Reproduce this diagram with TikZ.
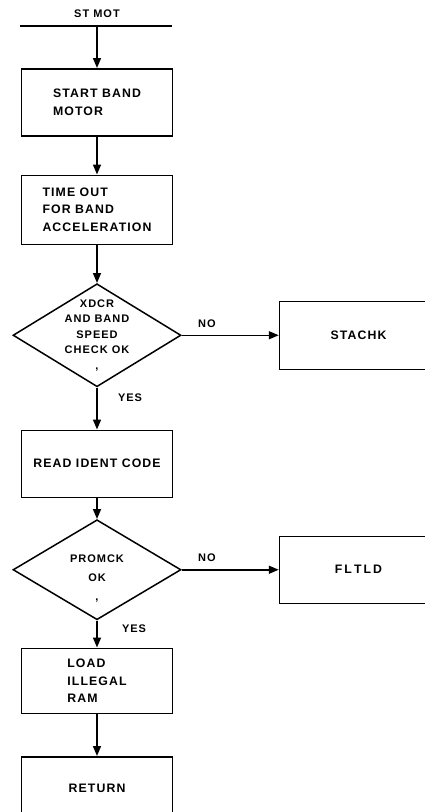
\documentclass[tikz,border=0pt]{standalone}
\usepackage{fontspec}
\setmainfont{Liberation Sans}[LetterSpace=9]
\usetikzlibrary{arrows.meta,positioning,shapes.geometric}
\tikzset{box/.style={draw,line width=1.5pt,align=left,minimum height=67pt,minimum width=151pt,inner sep=2pt,font=\fontsize{12.3}{17.5}\selectfont\bfseries},decision/.style={draw,diamond,line width=1.5pt,minimum width=168pt,minimum height=103pt,inner sep=0pt},arrow/.style={-{Triangle[length=10pt,width=8pt]},line width=1.5pt},txt/.style={font=\fontsize{11}{17}\selectfont\bfseries}}

\begin{document}
\begin{tikzpicture}[x=1pt,y=1pt,node distance=38pt,txt]
\useasboundingbox (0,0) rectangle (424,-812);
\node (stmot) at (97,-14) {ST MOT};
\coordinate (entry) at (97,-26);
\draw[line width=1.5pt] (20,-26) -- (172,-26);
\node[box,below=42pt of entry] (start) {START BAND\\MOTOR};
\node[box,below=of start,minimum height=69pt] (timeout) {TIME OUT\\FOR BAND\\ACCELERATION};
\node[decision,below=of timeout] (speedok) {};
\node[align=center,font=\fontsize{11}{15.5}\selectfont\bfseries] (speedtxt) at (speedok) {XDCR\\AND BAND\\SPEED\\CHECK OK\\,};
\node[box,right=97pt of speedok,minimum width=158pt,minimum height=68pt,align=center] (stachk) {STACHK};
\node[box,below=42pt of speedok] (readid) {READ IDENT CODE};
\node[decision,below=21pt of readid,minimum height=100pt] (promck) {};
\node[align=center,font=\fontsize{11}{19}\selectfont\bfseries,yshift=-9pt] (promtxt) at (promck) {PROMCK\\OK\\,};
\node[box,right=97pt of promck,minimum width=158pt,align=center] (fltld) {F\,L\,T\,L\,D};
\node[box,below=27pt of promck,minimum height=65pt] (loadram) {LOAD\\ILLEGAL\\RAM};
\node[box,below=42pt of loadram,minimum height=63pt,align=center] (ret) {RETURN};
\draw[arrow] (entry)--(start);
\draw[arrow] (start)--(timeout);
\draw[arrow] (timeout)--(speedok);
\draw[arrow] (speedok) -- node[pos=.26,above=4pt]{NO} (stachk);
\draw[arrow] (speedok) -- node[pos=.24,right=17pt]{YES} (readid);
\draw[arrow] (readid)--(promck);
\draw[arrow] (promck) -- node[pos=.26,above=4pt]{NO} (fltld);
\draw[arrow] (promck) -- node[pos=.3,right=21pt]{YES} (loadram);
\draw[arrow] (loadram)--(ret);
\end{tikzpicture}
\end{document}
